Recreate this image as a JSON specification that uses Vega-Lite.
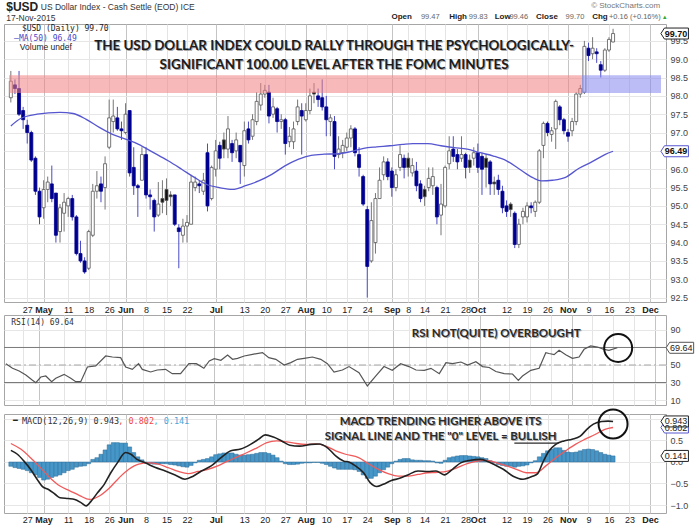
{
"$schema": "https://vega.github.io/schema/vega-lite/v6.json",
"background": "#ffffff",
"padding": {"left": 2, "top": 0, "right": 0, "bottom": 0},
"config": {
  "view": {"stroke": "#a6a6a6", "strokeWidth": 1},
  "axis": {"labelFont": "Liberation Sans", "labelFontSize": 9, "labelColor": "#333333", "ticks": false, "domain": false, "gridWidth": 1, "labelOverlap": false, "tickCount": 200},
  "text": {"font": "Liberation Sans"}
},
"datasets": {
  "ohlc": [
{"t":0,"o":97.95,"h":98.68,"l":97.82,"c":98.4},{"t":1,"o":98.3,"h":98.45,"l":98.05,"c":98.2},{"t":2,"o":98.2,"h":98.68,"l":97.45,"c":97.5},{"t":3,"o":97.6,"h":97.7,"l":97.1,"c":97.35},{"t":4,"o":97.2,"h":97.35,"l":96.7,"c":97.0},{"t":5,"o":97.0,"h":97.05,"l":96.2,"c":96.25},{"t":6,"o":96.3,"h":96.35,"l":95.3,"c":95.4},{"t":7,"o":95.4,"h":95.5,"l":94.5,"c":94.7},{"t":8,"o":94.95,"h":95.7,"l":94.65,"c":95.45},{"t":9,"o":95.45,"h":95.8,"l":95.1,"c":95.65},
{"t":10,"o":95.6,"h":96.1,"l":95.1,"c":95.2},{"t":11,"o":95.35,"h":95.35,"l":94.0,"c":94.2},{"t":12,"o":94.3,"h":95.05,"l":94.0,"c":94.95},{"t":13,"o":94.8,"h":95.35,"l":94.3,"c":95.1},{"t":14,"o":95.0,"h":95.25,"l":94.7,"c":95.2},{"t":15,"o":95.2,"h":95.3,"l":94.6,"c":94.7},{"t":16,"o":94.7,"h":94.75,"l":93.65,"c":93.7},{"t":17,"o":93.7,"h":94.05,"l":93.45,"c":93.5},{"t":18,"o":93.5,"h":93.6,"l":93.15,"c":93.2},{"t":19,"o":93.3,"h":94.35,"l":93.25,"c":94.3},
{"t":20,"o":94.2,"h":95.6,"l":94.15,"c":95.4},{"t":21,"o":95.4,"h":95.95,"l":95.2,"c":95.55},{"t":22,"o":95.6,"h":95.8,"l":95.1,"c":95.4},{"t":23,"o":95.5,"h":96.35,"l":94.9,"c":96.15},{"t":24,"o":96.6,"h":97.9,"l":96.55,"c":97.4},{"t":25,"o":97.3,"h":97.9,"l":97.0,"c":97.45},{"t":26,"o":97.4,"h":97.7,"l":97.05,"c":97.1},{"t":27,"o":97.1,"h":97.3,"l":96.8,"c":97.05},{"t":28,"o":97.0,"h":97.8,"l":96.95,"c":97.5},{"t":29,"o":97.6,"h":97.6,"l":95.8,"c":95.9},
{"t":30,"o":96.05,"h":96.6,"l":95.3,"c":95.55},{"t":31,"o":95.55,"h":95.6,"l":94.7,"c":95.5},{"t":32,"o":95.7,"h":96.6,"l":95.7,"c":96.4},{"t":33,"o":96.4,"h":96.6,"l":95.2,"c":95.3},{"t":34,"o":95.3,"h":95.45,"l":94.9,"c":95.25},{"t":35,"o":95.15,"h":95.2,"l":94.3,"c":94.7},{"t":36,"o":94.75,"h":95.65,"l":94.7,"c":95.05},{"t":37,"o":95.2,"h":95.7,"l":94.8,"c":95.1},{"t":38,"o":95.45,"h":95.75,"l":94.75,"c":95.15},{"t":39,"o":95.3,"h":95.4,"l":95.0,"c":95.25},
{"t":40,"o":95.3,"h":95.3,"l":94.45,"c":94.5},{"t":41,"o":94.4,"h":94.5,"l":93.3,"c":94.3},{"t":42,"o":94.2,"h":94.65,"l":94.0,"c":94.45},{"t":43,"o":94.45,"h":94.75,"l":94.0,"c":94.55},{"t":44,"o":94.5,"h":95.85,"l":94.5,"c":95.65},{"t":45,"o":95.5,"h":95.8,"l":95.4,"c":95.65},{"t":46,"o":95.6,"h":95.7,"l":95.35,"c":95.55},{"t":47,"o":95.4,"h":95.9,"l":95.3,"c":95.7},{"t":48,"o":96.45,"h":96.7,"l":94.85,"c":95.0},{"t":49,"o":95.2,"h":96.1,"l":95.15,"c":96.05},
{"t":50,"o":96.0,"h":96.8,"l":95.8,"c":96.5},{"t":51,"o":96.65,"h":96.75,"l":96.0,"c":96.3},{"t":52,"o":96.8,"h":97.0,"l":96.3,"c":96.55},{"t":53,"o":96.55,"h":97.45,"l":96.3,"c":97.1},{"t":54,"o":96.7,"h":96.8,"l":96.2,"c":96.45},{"t":55,"o":96.5,"h":97.0,"l":96.3,"c":96.8},{"t":56,"o":96.65,"h":96.65,"l":95.6,"c":96.2},{"t":57,"o":96.1,"h":97.3,"l":95.8,"c":97.05},{"t":58,"o":97.1,"h":97.3,"l":96.7,"c":96.8},{"t":59,"o":96.9,"h":97.5,"l":96.8,"c":97.35},
{"t":60,"o":97.3,"h":98.1,"l":97.2,"c":97.85},{"t":61,"o":97.75,"h":98.35,"l":97.6,"c":98.05},{"t":62,"o":98.05,"h":98.3,"l":97.95,"c":98.15},{"t":63,"o":98.1,"h":98.3,"l":97.25,"c":97.45},{"t":64,"o":97.5,"h":97.95,"l":97.4,"c":97.7},{"t":65,"o":97.65,"h":97.7,"l":97.0,"c":97.3},{"t":66,"o":97.3,"h":97.5,"l":97.1,"c":97.35},{"t":67,"o":97.35,"h":97.4,"l":96.4,"c":96.7},{"t":68,"o":96.75,"h":97.15,"l":96.6,"c":96.9},{"t":69,"o":96.75,"h":97.3,"l":96.55,"c":97.1},
{"t":70,"o":97.3,"h":97.9,"l":97.2,"c":97.7},{"t":71,"o":97.6,"h":97.8,"l":96.4,"c":97.45},{"t":72,"o":97.35,"h":97.8,"l":97.3,"c":97.6},{"t":73,"o":97.6,"h":98.2,"l":97.5,"c":98.0},{"t":74,"o":98.1,"h":98.35,"l":97.8,"c":98.05},{"t":75,"o":98.0,"h":98.2,"l":97.7,"c":97.9},{"t":76,"o":97.95,"h":98.45,"l":97.6,"c":97.7},{"t":77,"o":97.7,"h":98.0,"l":96.9,"c":97.35},{"t":78,"o":97.3,"h":97.5,"l":96.9,"c":97.4},{"t":79,"o":97.3,"h":97.45,"l":96.0,"c":96.35},
{"t":80,"o":96.4,"h":96.9,"l":96.3,"c":96.55},{"t":81,"o":96.45,"h":96.8,"l":96.3,"c":96.65},{"t":82,"o":96.6,"h":97.0,"l":96.5,"c":96.85},{"t":83,"o":96.85,"h":97.2,"l":96.6,"c":97.1},{"t":84,"o":97.1,"h":97.15,"l":96.35,"c":96.45},{"t":85,"o":96.4,"h":96.6,"l":95.8,"c":96.05},{"t":86,"o":95.8,"h":95.85,"l":95.0,"c":95.05},{"t":87,"o":94.9,"h":95.0,"l":92.5,"c":93.35},{"t":88,"o":93.5,"h":95.1,"l":93.45,"c":94.6},{"t":89,"o":94.0,"h":95.35,"l":93.7,"c":95.2},
{"t":90,"o":95.2,"h":96.05,"l":95.2,"c":95.7},{"t":91,"o":95.85,"h":96.35,"l":95.7,"c":96.2},{"t":92,"o":96.2,"h":96.3,"l":95.7,"c":95.8},{"t":93,"o":95.95,"h":96.05,"l":95.25,"c":95.5},{"t":94,"o":95.5,"h":96.0,"l":95.4,"c":95.85},{"t":95,"o":96.05,"h":96.65,"l":95.95,"c":96.4},{"t":96,"o":96.3,"h":96.4,"l":95.75,"c":96.05},{"t":97,"o":96.3,"h":96.45,"l":95.8,"c":96.05},{"t":98,"o":95.9,"h":96.3,"l":95.8,"c":96.1},{"t":99,"o":95.95,"h":96.2,"l":95.4,"c":95.55},
{"t":100,"o":95.6,"h":95.7,"l":95.1,"c":95.2},{"t":101,"o":95.45,"h":95.55,"l":95.0,"c":95.25},{"t":102,"o":95.5,"h":96.05,"l":95.4,"c":95.75},{"t":103,"o":95.55,"h":96.05,"l":95.3,"c":95.8},{"t":104,"o":95.5,"h":95.55,"l":94.5,"c":94.7},{"t":105,"o":94.75,"h":95.6,"l":94.2,"c":95.05},{"t":106,"o":95.0,"h":96.1,"l":94.95,"c":96.05},{"t":107,"o":96.15,"h":96.9,"l":96.0,"c":96.5},{"t":108,"o":96.55,"h":96.9,"l":96.2,"c":96.35},{"t":109,"o":96.4,"h":96.55,"l":96.0,"c":96.2},
{"t":110,"o":96.3,"h":96.9,"l":96.2,"c":96.4},{"t":111,"o":96.4,"h":96.45,"l":95.75,"c":96.05},{"t":112,"o":96.25,"h":96.4,"l":95.9,"c":96.05},{"t":113,"o":96.3,"h":96.6,"l":96.1,"c":96.45},{"t":114,"o":96.45,"h":96.7,"l":95.9,"c":96.05},{"t":115,"o":96.35,"h":96.45,"l":95.3,"c":96.0},{"t":116,"o":96.3,"h":96.4,"l":95.5,"c":96.05},{"t":117,"o":96.2,"h":96.25,"l":95.3,"c":95.6},{"t":118,"o":95.65,"h":95.8,"l":95.3,"c":95.6},{"t":119,"o":95.7,"h":95.85,"l":95.3,"c":95.45},
{"t":120,"o":95.4,"h":95.55,"l":94.8,"c":94.95},{"t":121,"o":95.0,"h":95.15,"l":94.7,"c":94.85},{"t":122,"o":95.05,"h":95.1,"l":94.7,"c":94.9},{"t":123,"o":94.8,"h":94.85,"l":93.85,"c":93.95},{"t":124,"o":93.95,"h":94.65,"l":93.85,"c":94.5},{"t":125,"o":94.7,"h":94.95,"l":94.5,"c":94.85},{"t":126,"o":94.7,"h":95.1,"l":94.55,"c":95.0},{"t":127,"o":95.0,"h":95.1,"l":94.8,"c":94.95},{"t":128,"o":94.85,"h":95.15,"l":94.7,"c":95.1},{"t":129,"o":95.1,"h":96.55,"l":95.05,"c":96.5},
{"t":130,"o":96.65,"h":97.3,"l":96.3,"c":97.25},{"t":131,"o":97.25,"h":97.3,"l":96.9,"c":97.0},{"t":132,"o":96.95,"h":97.15,"l":96.75,"c":97.05},{"t":133,"o":97.1,"h":97.9,"l":96.55,"c":97.85},{"t":134,"o":97.7,"h":97.75,"l":97.2,"c":97.35},{"t":135,"o":97.35,"h":97.4,"l":96.95,"c":97.05},{"t":136,"o":97.0,"h":97.1,"l":96.75,"c":96.9},{"t":137,"o":97.05,"h":97.4,"l":96.9,"c":97.3},{"t":138,"o":97.3,"h":98.1,"l":97.2,"c":98.05},{"t":139,"o":98.05,"h":98.3,"l":97.95,"c":98.2},
{"t":140,"o":98.1,"h":99.5,"l":98.05,"c":99.35},{"t":141,"o":99.3,"h":99.45,"l":98.95,"c":99.1},{"t":142,"o":99.15,"h":99.6,"l":99.0,"c":99.3},{"t":143,"o":99.2,"h":99.3,"l":98.9,"c":99.15},{"t":144,"o":98.85,"h":98.95,"l":98.5,"c":98.7},{"t":145,"o":98.7,"h":99.3,"l":98.65,"c":99.25},{"t":146,"o":99.25,"h":99.6,"l":99.2,"c":99.54},{"t":147,"o":99.47,"h":99.83,"l":99.46,"c":99.7}
  ],
  "ma": [{"t":0,"v":97.18},{"t":2.5,"v":97.39},{"t":6.4,"v":97.5},{"t":12,"v":97.55},{"t":15.2,"v":97.52},{"t":18.4,"v":97.36},{"t":21.6,"v":97.14},{"t":24.8,"v":96.95},{"t":28,"v":96.82},{"t":31.2,"v":96.68},{"t":34.4,"v":96.48},{"t":38.4,"v":96.23},{"t":41.7,"v":96.0},{"t":44.9,"v":95.77},{"t":48.1,"v":95.57},{"t":50.9,"v":95.5},{"t":54.1,"v":95.45},{"t":57.3,"v":95.55},{"t":60.5,"v":95.68},{"t":63.7,"v":95.86},{"t":66.9,"v":96.09},{"t":70.1,"v":96.27},{"t":73.3,"v":96.38},{"t":76.5,"v":96.41},{"t":79.7,"v":96.42},{"t":82.9,"v":96.48},{"t":86.1,"v":96.57},{"t":89.3,"v":96.61},{"t":92.5,"v":96.64},{"t":95.7,"v":96.68},{"t":98.1,"v":96.7},{"t":101.8,"v":96.7},{"t":105,"v":96.64},{"t":108.2,"v":96.59},{"t":111.4,"v":96.55},{"t":114.6,"v":96.45},{"t":117.8,"v":96.36},{"t":121,"v":96.23},{"t":124.2,"v":96.0},{"t":127.4,"v":95.77},{"t":129.5,"v":95.68},{"t":132.2,"v":95.7},{"t":135.4,"v":95.78},{"t":138.6,"v":96.02},{"t":141.8,"v":96.2},{"t":145,"v":96.4},{"t":147,"v":96.49}],
  "bands": [{"zone":"resistance","t":-0.45,"t2":139.3,"v":98.08,"v2":98.56},{"zone":"support","t":139.3,"t2":158.7,"v":98.08,"v2":98.56}],
  "note_main": [{"t":78.9,"v":99.36,"txt":"THE USD DOLLAR INDEX COULD RALLY THROUGH THE PSYCHOLOGICALLY-"},{"t":78.9,"v":98.84,"txt":"SIGNIFICANT 100.00 LEVEL AFTER THE FOMC MINUTES"}],
  "leg_price": [{"t":2.7,"v":99.82,"txt":"$USD (Daily) 99.70"}],
  "leg_ma": [{"t":0.8,"v":99.56,"txt":"—MA(50) 96.49"}],
  "leg_vol": [{"t":2.2,"v":99.33,"txt":"Volume undef"}],
  "hdr_big": [{"t":-1.13,"v":100.42,"txt":"$USD"}],
  "hdr_left": [{"t":7.3,"v":100.42,"txt":"US Dollar Index - Cash Settle (EOD) ICE"},{"t":-1.13,"v":100.12,"txt":"17-Nov-2015"}],
  "hdr_right": [{"t":158.5,"v":100.45,"txt":"© StockCharts.com"}],
  "hdr_keys": [{"t":92.9,"v":100.14,"txt":"Open"},{"t":107.0,"v":100.14,"txt":"High"},{"t":118.1,"v":100.14,"txt":"Low"},{"t":128.2,"v":100.14,"txt":"Close"},{"t":141.9,"v":100.14,"txt":"Chg"}],
  "hdr_vals": [{"t":100.1,"v":100.14,"txt":"99.47"},{"t":111.8,"v":100.14,"txt":"99.83"},{"t":121.7,"v":100.14,"txt":"99.46"},{"t":135.4,"v":100.14,"txt":"99.70"},{"t":146.0,"v":100.14,"txt":"+0.16 (+0.16%)"}],
  "hdr_up": [{"t":158.9,"v":100.14,"txt":"▲"}],
  "tag_main": [{"t":162.1,"v":96.49,"txt":"96.49","s":"MA(50)"},{"t":162.1,"v":99.7,"txt":"99.70","s":"$USD"}],
  "rsi": [{"t":0,"v":51.5},{"t":1.6,"v":46.2},{"t":3.2,"v":43.1},{"t":4.8,"v":38.6},{"t":6.4,"v":32.5},{"t":7.2,"v":29.8},{"t":8.4,"v":36.3},{"t":9.6,"v":37.4},{"t":11,"v":31},{"t":12,"v":34.8},{"t":14,"v":39.3},{"t":15.6,"v":34.8},{"t":16.8,"v":31},{"t":18,"v":31},{"t":19.6,"v":47.7},{"t":21.6,"v":48.9},{"t":24,"v":60.3},{"t":25.6,"v":59.1},{"t":27.6,"v":58.4},{"t":28.8,"v":47.7},{"t":30.4,"v":45},{"t":31.9,"v":51.5},{"t":32.8,"v":45},{"t":34.8,"v":42},{"t":36.4,"v":44.3},{"t":38.4,"v":45},{"t":40,"v":40.1},{"t":42,"v":40.1},{"t":44,"v":51.5},{"t":45.8,"v":51.5},{"t":47.6,"v":46.2},{"t":48.9,"v":54.6},{"t":50.1,"v":57.2},{"t":51.7,"v":55.4},{"t":53.3,"v":61.4},{"t":54.5,"v":56.5},{"t":55.7,"v":57.6},{"t":57.3,"v":60.3},{"t":59.3,"v":62.2},{"t":61.7,"v":64.1},{"t":63.2,"v":58.4},{"t":64.9,"v":56.5},{"t":66.9,"v":50},{"t":68.5,"v":52.7},{"t":70.1,"v":56.5},{"t":71.7,"v":57.6},{"t":73.7,"v":59.1},{"t":75.7,"v":56.5},{"t":77.3,"v":51.5},{"t":78.9,"v":41.9},{"t":80.9,"v":44.3},{"t":82.5,"v":48.2},{"t":84.9,"v":41.2},{"t":86.9,"v":26},{"t":88.9,"v":37.4},{"t":90.9,"v":48.2},{"t":92.9,"v":43.9},{"t":94.9,"v":51.5},{"t":96.9,"v":48.2},{"t":98.6,"v":44.3},{"t":100.6,"v":43.9},{"t":102.2,"v":46.2},{"t":104.2,"v":40.1},{"t":105.8,"v":52.7},{"t":107.4,"v":51.5},{"t":109.4,"v":53.4},{"t":111,"v":50},{"t":113,"v":53.8},{"t":114.6,"v":48.2},{"t":116.2,"v":47.1},{"t":117.8,"v":42.5},{"t":119.8,"v":40.1},{"t":121.8,"v":39.7},{"t":123.2,"v":32.5},{"t":124.2,"v":37.4},{"t":126.2,"v":43.9},{"t":128.2,"v":46.2},{"t":129.8,"v":64.1},{"t":130.6,"v":63.1},{"t":131.8,"v":61.8},{"t":133,"v":66.8},{"t":134.6,"v":61.8},{"t":136.2,"v":57.6},{"t":137.8,"v":59.1},{"t":139,"v":67.9},{"t":140.6,"v":71.7},{"t":142.2,"v":70.5},{"t":143.8,"v":67.9},{"t":145,"v":66.8},{"t":147,"v":69.64}],
  "rsi_lv": [{"lv":70},{"lv":30}],
  "rsi_mid": [{"lv":50}],
  "rsi_lab": [{"t":1.3,"v":98,"txt":"RSI(14) 69.64"}],
  "rsi_note": [{"t":117.9,"v":85.4,"txt":"RSI NOT(QUITE) OVERBOUGHT"}],
  "rsi_circle": [{"t":147.2,"v":69.4}],
  "tag_rsi": [{"t":162.1,"v":69.64,"txt":"69.64"}],
  "hist": [{"t":0,"v":-0.10},{"t":1,"v":-0.13},{"t":2,"v":-0.15},{"t":3,"v":-0.17},{"t":4,"v":-0.20},{"t":5,"v":-0.25},{"t":6,"v":-0.30},{"t":7,"v":-0.36},{"t":8,"v":-0.42},{"t":9,"v":-0.40},{"t":10,"v":-0.36},{"t":11,"v":-0.33},{"t":12,"v":-0.30},{"t":13,"v":-0.25},{"t":14,"v":-0.20},{"t":15,"v":-0.17},{"t":16,"v":-0.12},{"t":17,"v":-0.10},{"t":18,"v":-0.09},{"t":19,"v":-0.04},{"t":20,"v":0.06},{"t":21,"v":0.10},{"t":22,"v":0.18},{"t":23,"v":0.28},{"t":24,"v":0.40},{"t":25,"v":0.45},{"t":26,"v":0.45},{"t":27,"v":0.44},{"t":28,"v":0.44},{"t":29,"v":0.35},{"t":30,"v":0.22},{"t":31,"v":0.12},{"t":32,"v":0.05},{"t":33,"v":-0.02},{"t":34,"v":-0.04},{"t":35,"v":-0.05},{"t":36,"v":-0.05},{"t":37,"v":-0.04},{"t":38,"v":-0.04},{"t":39,"v":-0.06},{"t":40,"v":-0.07},{"t":41,"v":-0.09},{"t":42,"v":-0.11},{"t":43,"v":-0.12},{"t":44,"v":-0.08},{"t":45,"v":-0.02},{"t":46,"v":0.04},{"t":47,"v":0.06},{"t":48,"v":0.08},{"t":49,"v":0.12},{"t":50,"v":0.17},{"t":51,"v":0.19},{"t":52,"v":0.21},{"t":53,"v":0.21},{"t":54,"v":0.21},{"t":55,"v":0.18},{"t":56,"v":0.16},{"t":57,"v":0.16},{"t":58,"v":0.17},{"t":59,"v":0.18},{"t":60,"v":0.20},{"t":61,"v":0.22},{"t":62,"v":0.22},{"t":63,"v":0.20},{"t":64,"v":0.16},{"t":65,"v":0.10},{"t":66,"v":0.02},{"t":67,"v":-0.04},{"t":68,"v":-0.06},{"t":69,"v":-0.06},{"t":70,"v":-0.05},{"t":71,"v":-0.03},{"t":72,"v":-0.02},{"t":73,"v":-0.02},{"t":74,"v":-0.01},{"t":75,"v":-0.01},{"t":76,"v":-0.03},{"t":77,"v":-0.06},{"t":78,"v":-0.10},{"t":79,"v":-0.14},{"t":80,"v":-0.17},{"t":81,"v":-0.17},{"t":82,"v":-0.17},{"t":83,"v":-0.17},{"t":84,"v":-0.18},{"t":85,"v":-0.22},{"t":86,"v":-0.30},{"t":87,"v":-0.38},{"t":88,"v":-0.38},{"t":89,"v":-0.33},{"t":90,"v":-0.25},{"t":91,"v":-0.18},{"t":92,"v":-0.12},{"t":93,"v":-0.04},{"t":94,"v":0.02},{"t":95,"v":0.06},{"t":96,"v":0.08},{"t":97,"v":0.08},{"t":98,"v":0.05},{"t":99,"v":0.04},{"t":100,"v":0.04},{"t":101,"v":0.03},{"t":102,"v":0.03},{"t":103,"v":0.02},{"t":104,"v":-0.02},{"t":105,"v":-0.03},{"t":106,"v":0.04},{"t":107,"v":0.10},{"t":108,"v":0.12},{"t":109,"v":0.14},{"t":110,"v":0.15},{"t":111,"v":0.15},{"t":112,"v":0.14},{"t":113,"v":0.13},{"t":114,"v":0.12},{"t":115,"v":0.10},{"t":116,"v":0.08},{"t":117,"v":0.03},{"t":118,"v":-0.02},{"t":119,"v":-0.06},{"t":120,"v":-0.08},{"t":121,"v":-0.10},{"t":122,"v":-0.10},{"t":123,"v":-0.12},{"t":124,"v":-0.10},{"t":125,"v":-0.09},{"t":126,"v":-0.07},{"t":127,"v":-0.02},{"t":128,"v":0.03},{"t":129,"v":0.12},{"t":130,"v":0.20},{"t":131,"v":0.26},{"t":132,"v":0.30},{"t":133,"v":0.33},{"t":134,"v":0.33},{"t":135,"v":0.27},{"t":136,"v":0.23},{"t":137,"v":0.22},{"t":138,"v":0.23},{"t":139,"v":0.26},{"t":140,"v":0.29},{"t":141,"v":0.30},{"t":142,"v":0.29},{"t":143,"v":0.26},{"t":144,"v":0.22},{"t":145,"v":0.18},{"t":146,"v":0.16},{"t":147,"v":0.141}],
  "macd": [{"t":0,"v":0.27},{"t":1.6,"v":0.18},{"t":3.2,"v":0.02},{"t":4.8,"v":-0.17},{"t":6.4,"v":-0.40},{"t":7.6,"v":-0.56},{"t":9.2,"v":-0.64},{"t":10.8,"v":-0.75},{"t":12,"v":-0.83},{"t":14,"v":-0.85},{"t":15.6,"v":-0.87},{"t":17.2,"v":-0.95},{"t":18.4,"v":-1.02},{"t":19.6,"v":-0.91},{"t":21.2,"v":-0.71},{"t":22.8,"v":-0.52},{"t":24.4,"v":-0.25},{"t":26,"v":-0.02},{"t":28,"v":0.22},{"t":29.3,"v":0.18},{"t":30.8,"v":0.06},{"t":32.8,"v":-0.02},{"t":35.3,"v":-0.13},{"t":37.7,"v":-0.21},{"t":40.1,"v":-0.30},{"t":42.5,"v":-0.40},{"t":44.5,"v":-0.33},{"t":46.5,"v":-0.21},{"t":48.9,"v":-0.09},{"t":51.3,"v":0.10},{"t":53.7,"v":0.26},{"t":56.1,"v":0.30},{"t":58.5,"v":0.41},{"t":60.5,"v":0.53},{"t":62.1,"v":0.63},{"t":64.1,"v":0.58},{"t":66.1,"v":0.49},{"t":68.1,"v":0.39},{"t":70.5,"v":0.37},{"t":73.3,"v":0.41},{"t":75.3,"v":0.42},{"t":77.3,"v":0.33},{"t":79.3,"v":0.14},{"t":81.3,"v":0.02},{"t":82.5,"v":0.0},{"t":84.1,"v":-0.09},{"t":86.1,"v":-0.25},{"t":87.7,"v":-0.48},{"t":89.3,"v":-0.57},{"t":90.9,"v":-0.52},{"t":92.9,"v":-0.43},{"t":94.9,"v":-0.38},{"t":96.9,"v":-0.30},{"t":99.4,"v":-0.21},{"t":101.8,"v":-0.22},{"t":103.8,"v":-0.21},{"t":105.8,"v":-0.30},{"t":107.8,"v":-0.17},{"t":109.8,"v":-0.02},{"t":112.2,"v":0.04},{"t":114.6,"v":0.06},{"t":116.2,"v":0.02},{"t":118.2,"v":-0.07},{"t":120.2,"v":-0.17},{"t":122.6,"v":-0.33},{"t":125,"v":-0.40},{"t":127.4,"v":-0.33},{"t":128.6,"v":-0.27},{"t":129.8,"v":-0.02},{"t":131.4,"v":0.26},{"t":133,"v":0.41},{"t":135,"v":0.49},{"t":137,"v":0.53},{"t":139,"v":0.60},{"t":140.6,"v":0.76},{"t":142.2,"v":0.88},{"t":144.2,"v":0.94},{"t":145.8,"v":0.95},{"t":147,"v":0.943}],
  "signal": [{"t":0,"v":0.43},{"t":2.4,"v":0.30},{"t":4.8,"v":0.10},{"t":7.2,"v":-0.13},{"t":9.6,"v":-0.37},{"t":12,"v":-0.56},{"t":14.4,"v":-0.67},{"t":16.8,"v":-0.78},{"t":19.2,"v":-0.87},{"t":21.6,"v":-0.79},{"t":24,"v":-0.61},{"t":26.4,"v":-0.37},{"t":28.8,"v":-0.17},{"t":31.2,"v":-0.05},{"t":33.6,"v":-0.02},{"t":36,"v":-0.05},{"t":38.4,"v":-0.13},{"t":40.9,"v":-0.22},{"t":43.3,"v":-0.27},{"t":45.7,"v":-0.22},{"t":48.1,"v":-0.17},{"t":50.5,"v":-0.09},{"t":52.9,"v":0.02},{"t":55.3,"v":0.12},{"t":57.7,"v":0.22},{"t":60.1,"v":0.33},{"t":62.5,"v":0.45},{"t":64.9,"v":0.49},{"t":67.3,"v":0.47},{"t":69.7,"v":0.43},{"t":72.1,"v":0.41},{"t":74.5,"v":0.42},{"t":76.9,"v":0.37},{"t":79.3,"v":0.26},{"t":81.7,"v":0.18},{"t":84.9,"v":0.10},{"t":87.3,"v":-0.04},{"t":89.7,"v":-0.17},{"t":92.1,"v":-0.27},{"t":94.5,"v":-0.33},{"t":96.9,"v":-0.33},{"t":99.4,"v":-0.29},{"t":101.8,"v":-0.25},{"t":104.2,"v":-0.24},{"t":106.6,"v":-0.21},{"t":109,"v":-0.13},{"t":111.4,"v":-0.04},{"t":113.8,"v":0.02},{"t":116.2,"v":0.04},{"t":118.6,"v":-0.02},{"t":121,"v":-0.09},{"t":123.4,"v":-0.17},{"t":125.8,"v":-0.25},{"t":128.2,"v":-0.25},{"t":130.6,"v":-0.09},{"t":133,"v":0.10},{"t":135.4,"v":0.26},{"t":137.8,"v":0.41},{"t":140.2,"v":0.53},{"t":142.6,"v":0.64},{"t":145,"v":0.76},{"t":147,"v":0.802}],
  "macd_dash": [{"t":0.55,"v":0.953,"txt":"━"}],
  "macd_lab": [{"t":2.7,"v":0.953,"txt":"MACD(12,26,9) 0.943"}],
  "macd_lab_sig": [{"t":26.2,"v":0.953,"txt":", 0.802"}],
  "macd_lab_hist": [{"t":34.8,"v":0.953,"txt":", 0.141"}],
  "macd_note": [{"t":104.9,"v":0.93,"txt":"MACD TRENDING HIGHER ABOVE ITS"},{"t":104.9,"v":0.58,"txt":"SIGNAL LINE AND THE \"0\" LEVEL = BULLISH"}],
  "macd_ul": [{"t":122.9,"t2":133.7,"v":0.44}],
  "macd_circle": [{"t":147,"v":0.884}],
  "tag_macd": [{"t":162.1,"v":0.802,"txt":"0.802","s":"signal"},{"t":162.1,"v":0.943,"txt":"0.943","s":"macd"},{"t":162.1,"v":0.141,"txt":"0.141","s":"hist"}]
},
"spacing": 13,
"bounds": "flush",
"resolve": {"scale": {"x": "independent", "y": "independent"}},
"vconcat": [
{
  "width": 662, "height": 278,
  "layer": [
    {"data": {"name": "ohlc"},
     "transform": [{"window": [{"op": "lag", "field": "c", "as": "pc"}], "sort": [{"field": "t", "order": "ascending"}]}],
     "layer": [
       {"mark": {"type": "rule", "strokeWidth": 1},
        "encoding": {
          "x": {"field": "t", "type": "quantitative", "scale": {"domain": [-0.45, 158.7], "nice": false, "zero": false},
                "axis": {"title": null, "grid": true, "labelPadding": 3, "labelOverlap": false, "labelFlush": false, "labelColor": "#222222", "tickCount": 200,
                         "values": [4,8,14,19,24,28,33,38,43,50,57,62,67,72,77,82,87,93,97,101,106,111,114,121,126,131,136,141,146,151,156],
                         "labelExpr": "datum.value==4?'27':datum.value==8?'May':datum.value==14?'11':datum.value==19?'18':datum.value==24?'26':datum.value==28?'Jun':datum.value==33?'8':datum.value==38?'15':datum.value==43?'22':datum.value==50?'Jul':datum.value==57?'13':datum.value==62?'20':datum.value==67?'27':datum.value==72?'Aug':datum.value==77?'10':datum.value==82?'17':datum.value==87?'24':datum.value==93?'Sep':datum.value==97?'8':datum.value==101?'14':datum.value==106?'21':datum.value==111?'28':datum.value==114?'Oct':datum.value==121?'12':datum.value==126?'19':datum.value==131?'26':datum.value==136?'Nov':datum.value==141?'9':datum.value==146?'16':datum.value==151?'23':datum.value==156?'Dec':''",
                         "labelFontWeight": {"condition": {"test": "indexof([8,28,50,72,93,114,136,156], datum.value) >= 0", "value": "bold"}, "value": "normal"},
                         "gridColor": {"condition": {"test": "indexof([8,28,50,72,93,114,136,156], datum.value) >= 0", "value": "#c4c4c4"}, "value": "#e4e4e4"}}},
          "y": {"field": "l", "type": "quantitative", "scale": {"domain": [92.38, 99.96], "nice": false, "zero": false},
                "axis": {"title": null, "orient": "right", "values": [92.5,93,93.5,94,94.5,95,95.5,96,96.5,97,97.5,98,98.5,99,99.5], "format": ".1f", "grid": true, "gridColor": "#e6e6e6", "labelPadding": 4, "labelColor": "#444444", "labelOverlap": false, "tickCount": 200}},
          "y2": {"field": "h"},
          "color": {"condition": {"test": "datum.c < datum.pc", "value": "#4a4ac4"}, "value": "#777777"}
        }},
       {"mark": {"type": "bar", "width": 3, "strokeWidth": 0.8},
        "encoding": {
          "x": {"field": "t", "type": "quantitative"},
          "y": {"field": "o", "type": "quantitative"},
          "y2": {"field": "c"},
          "fill": {"condition": [{"test": "datum.c < datum.o && datum.c < datum.pc", "value": "#000090"}, {"test": "datum.c < datum.o", "value": "#111111"}], "value": "#ffffff"},
          "stroke": {"condition": {"test": "datum.c < datum.pc", "value": "#000090"}, "value": "#555555"}
        }}
     ]},
    {"data": {"name": "ma"}, "mark": {"type": "line", "color": "#5656d0", "strokeWidth": 1.3, "interpolate": "monotone"},
     "encoding": {"x": {"field": "t", "type": "quantitative"}, "y": {"field": "v", "type": "quantitative"}}},
    {"data": {"name": "bands"}, "mark": {"type": "rect", "opacity": 0.55},
     "encoding": {"x": {"field": "t", "type": "quantitative"}, "x2": {"field": "t2"}, "y": {"field": "v", "type": "quantitative"}, "y2": {"field": "v2"},
                  "fill": {"field": "zone", "type": "nominal", "scale": {"domain": ["resistance", "support"], "range": ["#f08080", "#8585f0"]}, "legend": null}}},
    {"data": {"name": "note_main"}, "mark": {"type": "text", "font": "Lato", "fontWeight": "bold", "fontSize": 13.4, "color": "#a8a8a8", "dx": 1, "dy": 1},
     "encoding": {"x": {"field": "t", "type": "quantitative"}, "y": {"field": "v", "type": "quantitative"}, "text": {"field": "txt"}}},
    {"data": {"name": "note_main"}, "mark": {"type": "text", "font": "Lato", "fontWeight": "bold", "fontSize": 13.4, "color": "#1c1c1c"},
     "encoding": {"x": {"field": "t", "type": "quantitative"}, "y": {"field": "v", "type": "quantitative"}, "text": {"field": "txt"}}},
    {"data": {"name": "leg_price"}, "mark": {"type": "text", "font": "DejaVu Sans Mono", "fontSize": 8, "color": "#222222", "align": "left"},
     "encoding": {"x": {"field": "t", "type": "quantitative"}, "y": {"field": "v", "type": "quantitative"}, "text": {"field": "txt"}}},
    {"data": {"name": "leg_ma"}, "mark": {"type": "text", "font": "DejaVu Sans Mono", "fontSize": 8, "color": "#4848c8", "align": "left"},
     "encoding": {"x": {"field": "t", "type": "quantitative"}, "y": {"field": "v", "type": "quantitative"}, "text": {"field": "txt"}}},
    {"data": {"name": "leg_vol"}, "mark": {"type": "text", "fontSize": 8.5, "color": "#222222", "align": "left"},
     "encoding": {"x": {"field": "t", "type": "quantitative"}, "y": {"field": "v", "type": "quantitative"}, "text": {"field": "txt"}}},
    {"data": {"name": "hdr_big"}, "mark": {"type": "text", "fontSize": 12, "fontWeight": "bold", "color": "#222222", "align": "left"},
     "encoding": {"x": {"field": "t", "type": "quantitative"}, "y": {"field": "v", "type": "quantitative"}, "text": {"field": "txt"}}},
    {"data": {"name": "hdr_left"}, "mark": {"type": "text", "fontSize": 8.5, "color": "#333333", "align": "left"},
     "encoding": {"x": {"field": "t", "type": "quantitative"}, "y": {"field": "v", "type": "quantitative"}, "text": {"field": "txt"}}},
    {"data": {"name": "hdr_right"}, "mark": {"type": "text", "fontSize": 8, "color": "#777777", "align": "right"},
     "encoding": {"x": {"field": "t", "type": "quantitative"}, "y": {"field": "v", "type": "quantitative"}, "text": {"field": "txt"}}},
    {"data": {"name": "hdr_keys"}, "mark": {"type": "text", "fontSize": 8, "fontWeight": "bold", "color": "#222222", "align": "left"},
     "encoding": {"x": {"field": "t", "type": "quantitative"}, "y": {"field": "v", "type": "quantitative"}, "text": {"field": "txt"}}},
    {"data": {"name": "hdr_vals"}, "mark": {"type": "text", "fontSize": 7.5, "color": "#666666", "align": "left"},
     "encoding": {"x": {"field": "t", "type": "quantitative"}, "y": {"field": "v", "type": "quantitative"}, "text": {"field": "txt"}}},
    {"data": {"name": "hdr_up"}, "mark": {"type": "text", "fontSize": 6, "color": "#33aa33", "align": "left"},
     "encoding": {"x": {"field": "t", "type": "quantitative"}, "y": {"field": "v", "type": "quantitative"}, "text": {"field": "txt"}}},
    {"data": {"name": "tag_main"}, "mark": {"type": "point", "shape": "M-1.4,0L-1.05,-0.55L1.35,-0.55L1.35,0.55L-1.05,0.55Z", "size": 400, "filled": true, "fill": "#ffffff", "strokeWidth": 1, "opacity": 1},
     "encoding": {"x": {"field": "t", "type": "quantitative"}, "y": {"field": "v", "type": "quantitative"},
                  "stroke": {"field": "s", "type": "nominal", "scale": {"domain": ["$USD", "MA(50)"], "range": ["#222222", "#5656d0"]}, "legend": null}}},
    {"data": {"name": "tag_main"}, "mark": {"type": "text", "fontSize": 9, "fontWeight": "bold", "color": "#111111", "dx": 1},
     "encoding": {"x": {"field": "t", "type": "quantitative"}, "y": {"field": "v", "type": "quantitative"}, "text": {"field": "txt"}}}
  ]
},
{
  "spacing": 9,
  "bounds": "flush",
  "resolve": {"scale": {"x": "independent", "y": "independent"}},
  "vconcat": [
  {
    "width": 662, "height": 90,
    "layer": [
      {"data": {"name": "rsi_lv"}, "mark": {"type": "rule", "color": "#7a7a7a", "strokeWidth": 1},
       "encoding": {"y": {"field": "lv", "type": "quantitative"}}},
      {"data": {"name": "rsi_mid"}, "mark": {"type": "rule", "color": "#a8a8a8", "strokeWidth": 1, "strokeDash": [7, 3, 2, 3]},
       "encoding": {"y": {"field": "lv", "type": "quantitative"}}},
      {"data": {"name": "rsi"}, "mark": {"type": "line", "color": "#555555", "strokeWidth": 1.2},
       "encoding": {
         "x": {"field": "t", "type": "quantitative", "scale": {"domain": [-0.45, 158.7], "nice": false, "zero": false},
               "axis": {"title": null, "grid": true, "labels": false, "tickCount": 200,
                        "values": [4,8,14,19,24,28,33,38,43,50,57,62,67,72,77,82,87,93,97,101,106,111,114,121,126,131,136,141,146,151,156],
                        "gridColor": {"condition": {"test": "indexof([8,28,50,72,93,114,136,156], datum.value) >= 0", "value": "#c4c4c4"}, "value": "#e4e4e4"}}},
         "y": {"field": "v", "type": "quantitative", "scale": {"domain": [4.3, 107.1], "nice": false, "zero": false},
               "axis": {"title": null, "orient": "right", "values": [10, 30, 50, 70, 90], "format": "d", "grid": true, "gridColor": "#e6e6e6", "labelPadding": 4, "labelColor": "#444444", "labelOverlap": false, "tickCount": 200}}
       }},
      {"data": {"name": "rsi_lab"}, "mark": {"type": "text", "font": "DejaVu Sans Mono", "fontSize": 8, "color": "#333333", "align": "left"},
       "encoding": {"x": {"field": "t", "type": "quantitative"}, "y": {"field": "v", "type": "quantitative"}, "text": {"field": "txt"}}},
      {"data": {"name": "rsi_note"}, "mark": {"type": "text", "font": "Lato", "fontWeight": "bold", "fontSize": 11.5, "color": "#a8a8a8", "dx": 1, "dy": 1},
       "encoding": {"x": {"field": "t", "type": "quantitative"}, "y": {"field": "v", "type": "quantitative"}, "text": {"field": "txt"}}},
      {"data": {"name": "rsi_note"}, "mark": {"type": "text", "font": "Lato", "fontWeight": "bold", "fontSize": 11.5, "color": "#2a2a2a"},
       "encoding": {"x": {"field": "t", "type": "quantitative"}, "y": {"field": "v", "type": "quantitative"}, "text": {"field": "txt"}}},
      {"data": {"name": "rsi_circle"}, "mark": {"type": "point", "shape": "circle", "size": 784, "filled": false, "stroke": "#111111", "strokeWidth": 2, "opacity": 1},
       "encoding": {"x": {"field": "t", "type": "quantitative"}, "y": {"field": "v", "type": "quantitative"}}},
      {"data": {"name": "tag_rsi"}, "mark": {"type": "point", "shape": "M-1.4,0L-1.05,-0.55L1.35,-0.55L1.35,0.55L-1.05,0.55Z", "size": 400, "filled": true, "fill": "#ffffff", "stroke": "#555555", "strokeWidth": 1, "opacity": 1},
       "encoding": {"x": {"field": "t", "type": "quantitative"}, "y": {"field": "v", "type": "quantitative"}}},
      {"data": {"name": "tag_rsi"}, "mark": {"type": "text", "fontSize": 9, "color": "#222222", "dx": 1},
       "encoding": {"x": {"field": "t", "type": "quantitative"}, "y": {"field": "v", "type": "quantitative"}, "text": {"field": "txt"}}}
    ]
  },
  {
    "width": 662, "height": 99,
    "layer": [
      {"data": {"name": "hist"}, "mark": {"type": "bar", "width": 4, "fill": "#4696c8", "stroke": "#2a6a96", "strokeWidth": 0.5},
       "encoding": {
         "x": {"field": "t", "type": "quantitative", "scale": {"domain": [-0.45, 158.7], "nice": false, "zero": false},
               "axis": {"title": null, "grid": true, "labelPadding": 2, "labelOverlap": false, "labelFlush": false, "labelColor": "#222222", "tickCount": 200,
                        "values": [4,8,14,19,24,28,33,38,43,50,57,62,67,72,77,82,87,93,97,101,106,111,114,121,126,131,136,141,146,151,156],
                        "labelExpr": "datum.value==4?'27':datum.value==8?'May':datum.value==14?'11':datum.value==19?'18':datum.value==24?'26':datum.value==28?'Jun':datum.value==33?'8':datum.value==38?'15':datum.value==43?'22':datum.value==50?'Jul':datum.value==57?'13':datum.value==62?'20':datum.value==67?'27':datum.value==72?'Aug':datum.value==77?'10':datum.value==82?'17':datum.value==87?'24':datum.value==93?'Sep':datum.value==97?'8':datum.value==101?'14':datum.value==106?'21':datum.value==111?'28':datum.value==114?'Oct':datum.value==121?'12':datum.value==126?'19':datum.value==131?'26':datum.value==136?'Nov':datum.value==141?'9':datum.value==146?'16':datum.value==151?'23':datum.value==156?'Dec':''",
                        "labelFontWeight": {"condition": {"test": "indexof([8,28,50,72,93,114,136,156], datum.value) >= 0", "value": "bold"}, "value": "normal"},
                        "gridColor": {"condition": {"test": "indexof([8,28,50,72,93,114,136,156], datum.value) >= 0", "value": "#c4c4c4"}, "value": "#e4e4e4"}}},
         "y": {"field": "v", "type": "quantitative", "scale": {"domain": [-1.186, 1.116], "nice": false, "zero": false},
               "axis": {"title": null, "orient": "right", "values": [-1, -0.5, 0, 0.5, 1], "format": ".1f", "grid": true, "gridColor": "#e6e6e6", "labelPadding": 4, "labelColor": "#444444", "labelOverlap": false, "tickCount": 200}},
         "y2": {"datum": 0}
       }},
      {"data": {"name": "signal"}, "mark": {"type": "line", "color": "#f05a5a", "strokeWidth": 1.3, "interpolate": "monotone"},
       "encoding": {"x": {"field": "t", "type": "quantitative"}, "y": {"field": "v", "type": "quantitative"}}},
      {"data": {"name": "macd"}, "mark": {"type": "line", "color": "#222222", "strokeWidth": 1.6, "interpolate": "monotone"},
       "encoding": {"x": {"field": "t", "type": "quantitative"}, "y": {"field": "v", "type": "quantitative"}}},
      {"data": {"name": "macd_dash"}, "mark": {"type": "text", "fontSize": 8, "color": "#222222", "align": "left"},
       "encoding": {"x": {"field": "t", "type": "quantitative"}, "y": {"field": "v", "type": "quantitative"}, "text": {"field": "txt"}}},
      {"data": {"name": "macd_lab"}, "mark": {"type": "text", "font": "DejaVu Sans Mono", "fontSize": 8.5, "color": "#333333", "align": "left"},
       "encoding": {"x": {"field": "t", "type": "quantitative"}, "y": {"field": "v", "type": "quantitative"}, "text": {"field": "txt"}}},
      {"data": {"name": "macd_lab_sig"}, "mark": {"type": "text", "font": "DejaVu Sans Mono", "fontSize": 8.5, "color": "#f04848", "align": "left"},
       "encoding": {"x": {"field": "t", "type": "quantitative"}, "y": {"field": "v", "type": "quantitative"}, "text": {"field": "txt"}}},
      {"data": {"name": "macd_lab_hist"}, "mark": {"type": "text", "font": "DejaVu Sans Mono", "fontSize": 8.5, "color": "#4aa6d8", "align": "left"},
       "encoding": {"x": {"field": "t", "type": "quantitative"}, "y": {"field": "v", "type": "quantitative"}, "text": {"field": "txt"}}},
      {"data": {"name": "macd_note"}, "mark": {"type": "text", "font": "Lato", "fontWeight": "bold", "fontSize": 11.4, "color": "#a8a8a8", "dx": 1, "dy": 1},
       "encoding": {"x": {"field": "t", "type": "quantitative"}, "y": {"field": "v", "type": "quantitative"}, "text": {"field": "txt"}}},
      {"data": {"name": "macd_note"}, "mark": {"type": "text", "font": "Lato", "fontWeight": "bold", "fontSize": 11.4, "color": "#2a2a2a"},
       "encoding": {"x": {"field": "t", "type": "quantitative"}, "y": {"field": "v", "type": "quantitative"}, "text": {"field": "txt"}}},
      {"data": {"name": "macd_ul"}, "mark": {"type": "rule", "color": "#2a2a2a", "strokeWidth": 1.2},
       "encoding": {"x": {"field": "t", "type": "quantitative"}, "x2": {"field": "t2"}, "y": {"field": "v", "type": "quantitative"}}},
      {"data": {"name": "macd_circle"}, "mark": {"type": "point", "shape": "circle", "size": 841, "filled": false, "stroke": "#111111", "strokeWidth": 2, "opacity": 1},
       "encoding": {"x": {"field": "t", "type": "quantitative"}, "y": {"field": "v", "type": "quantitative"}}},
      {"data": {"name": "tag_macd"}, "mark": {"type": "point", "shape": "M-1.4,0L-1.05,-0.55L1.35,-0.55L1.35,0.55L-1.05,0.55Z", "size": 400, "filled": true, "fill": "#ffffff", "strokeWidth": 1, "opacity": 1},
       "encoding": {"x": {"field": "t", "type": "quantitative"}, "y": {"field": "v", "type": "quantitative"},
                    "stroke": {"field": "s", "type": "nominal", "scale": {"domain": ["macd", "signal", "hist"], "range": ["#333333", "#f04848", "#4aa6d8"]}, "legend": null}}},
      {"data": {"name": "tag_macd"}, "mark": {"type": "text", "fontSize": 9, "color": "#222222", "dx": 1},
       "encoding": {"x": {"field": "t", "type": "quantitative"}, "y": {"field": "v", "type": "quantitative"}, "text": {"field": "txt"}}}
    ]
  }
  ]
}
]
}
